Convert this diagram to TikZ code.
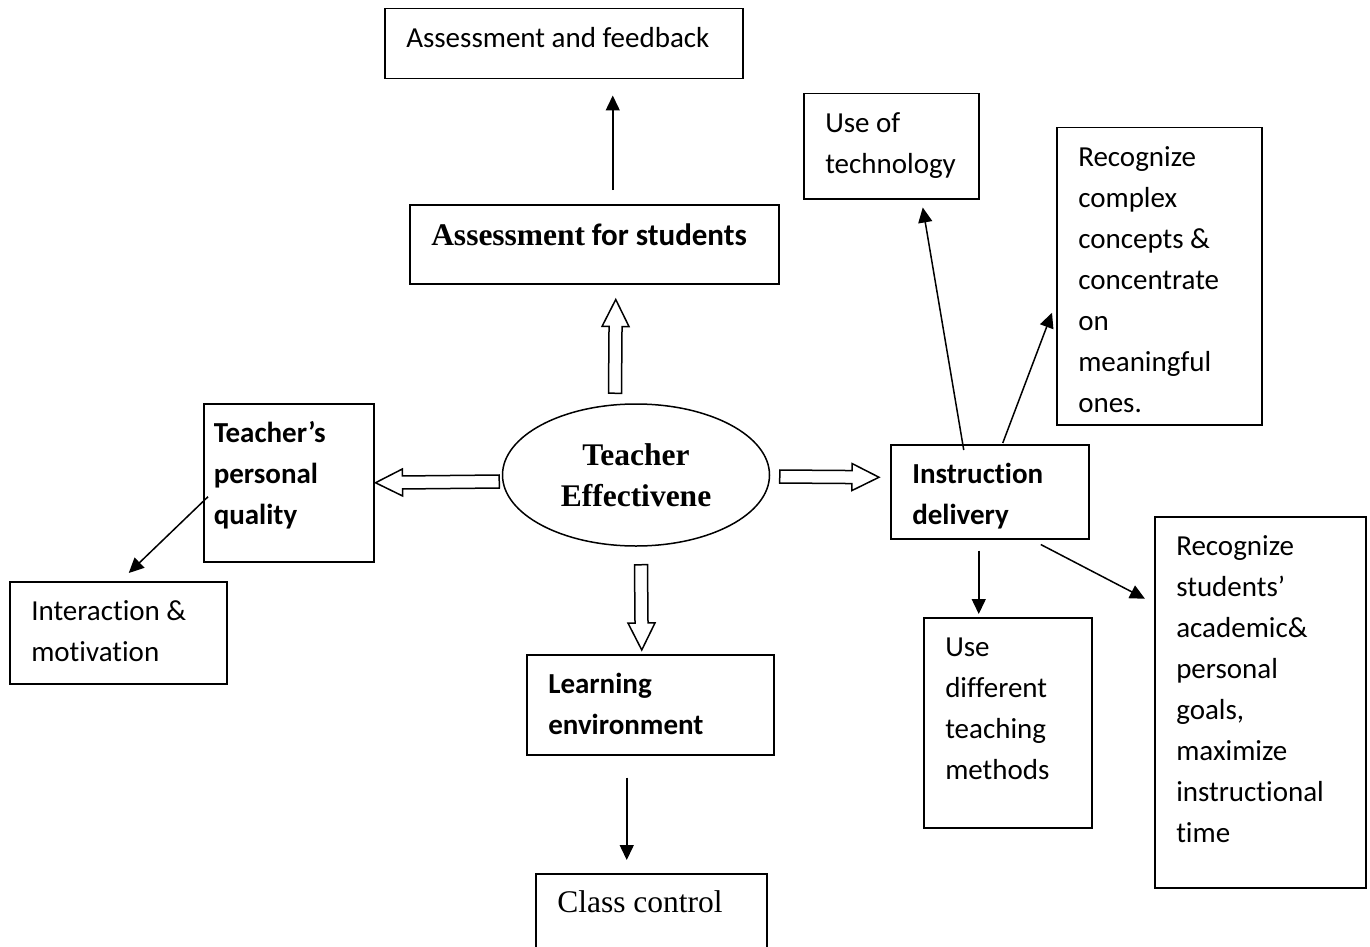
\documentclass[tikz,border=0pt]{standalone}
\usepackage{fontspec}
\setmainfont{Carlito}[Ligatures=NoCommon]
\newfontfamily\timesfont{Liberation Serif}
\usetikzlibrary{arrows.meta}
\usetikzlibrary{shapes.geometric}
\usetikzlibrary{calc}

\begin{document}
\begin{tikzpicture}[x=1pt,y=-1pt,line width=1.5pt,
                    >={Triangle[length=15pt,width=14pt]}]
\tikzset{every node/.style={font=\fontsize{29}{41}\selectfont},
  box/.style={draw,anchor=north west,inner xsep=21.5pt,inner ysep=0pt,
              text height=39pt,align=flush left},
  bbox/.style={box,font=\bfseries\fontsize{29}{41}\selectfont},
  hollow/.style={draw,fill=white,to path={
    ($(\tikztostart)!6.5pt!90:(\tikztotarget)$)
    -- ($(\tikztotarget)!27pt!(\tikztostart)!6.5pt!90:(\tikztotarget)$)
    -- ($(\tikztotarget)!27pt!(\tikztostart)!13.5pt!90:(\tikztotarget)$)
    -- (\tikztotarget)
    -- ($(\tikztotarget)!27pt!(\tikztostart)!13.5pt!-90:(\tikztotarget)$)
    -- ($(\tikztotarget)!27pt!(\tikztostart)!6.5pt!-90:(\tikztotarget)$)
    -- ($(\tikztostart)!6.5pt!-90:(\tikztotarget)$) -- cycle}}}
\useasboundingbox (0,0) rectangle (1370,947);
\path
(636,475) node[draw,ellipse,minimum width=267pt,minimum height=142pt,inner sep=0pt,
  align=center,font=\timesfont\bfseries\fontsize{31.5}{41}\selectfont] (tef)
  {Teacher\\Effectivene}
(384,8) node[box,text width=315pt,text depth=31pt] (aaf) {Assessment and feedback}
(409,204) node[bbox,text width=326pt,text depth=38pt,text height=41pt] (asf)
  {{\timesfont\fontsize{31.5}{41}\selectfont Assessment} {\fontsize{31}{41}\selectfont for students}}
(203,403) node[bbox,inner xsep=10pt,text width=150pt,text depth=119pt] (tpq)
  {Teacher’s\\personal\\quality}
(9,581) node[box,text width=174pt,text depth=63pt] (inm) {Interaction \&\\motivation}
(890,444) node[bbox,text width=155pt,text depth=55pt] (ind) {Instruction\\delivery}
(803,93) node[box,text width=132pt,text depth=66pt] (uot) {Use of\\technology}
(1056,127) node[box,text width=162pt,text depth=258pt] (rcc)
  {Recognize\\complex\\concepts \&\\concentrate\\on\\meaningful\\ones.}
(923,617) node[box,text width=125pt,text depth=171pt] (udt)
  {Use\\different\\teaching\\methods}
(1154,516) node[box,text width=168pt,text depth=332pt] (rsg)
  {Recognize\\students’\\academic\&\\personal\\goals,\\maximize\\instructional\\time}
(526,654) node[bbox,text width=204pt,text depth=61pt] (lev) {Learning\\environment}
(535,873) node[box,text width=188pt,text depth=61pt,
  font=\timesfont\fontsize{31.5}{41}\selectfont] (ccl) {Class control};

\draw[hollow] ([xshift=-21pt,yshift=10pt]tef.north) to ([xshift=21.5pt,yshift=-15pt]asf.south);
\draw[hollow] ([xshift=-2.5pt,yshift=-6.5pt]tef.west) to ([xshift=1pt]tpq.east);
\draw[hollow] ([xshift=9.5pt,yshift=-1.5pt]tef.east) to ([xshift=-11pt,yshift=14.5pt]ind.west);
\draw[hollow] ([xshift=5pt,yshift=-18pt]tef.south) to ([xshift=-8.5pt,yshift=4pt]lev.north);

\draw[->] ([xshift=18.5pt,yshift=14pt]asf.north) -- ([xshift=49pt,yshift=-16pt]aaf.south);
\draw[->] ([xshift=5pt,yshift=-14pt]tpq.west) -- ([xshift=10.5pt,yshift=8pt]inm.north);
\draw[->] ([xshift=-23.5pt,yshift=-22pt]lev.south) -- ([xshift=-24.5pt,yshift=13pt]ccl.north);
\draw[->] ([xshift=-26pt,yshift=-6pt]ind.north) -- ([xshift=31.5pt,yshift=-8pt]uot.south);
\draw[->] ([xshift=13pt,yshift=1pt]ind.north) -- ([xshift=-4pt,yshift=-36.5pt]rcc.west);
\draw[->] ([xshift=-11pt,yshift=-11pt]ind.south) -- ([xshift=-29pt,yshift=3pt]udt.north);
\draw[->] ([xshift=51pt,yshift=-5pt]ind.south) -- ([xshift=-9pt,yshift=103.5pt]rsg.west);
\end{tikzpicture}
\end{document}
